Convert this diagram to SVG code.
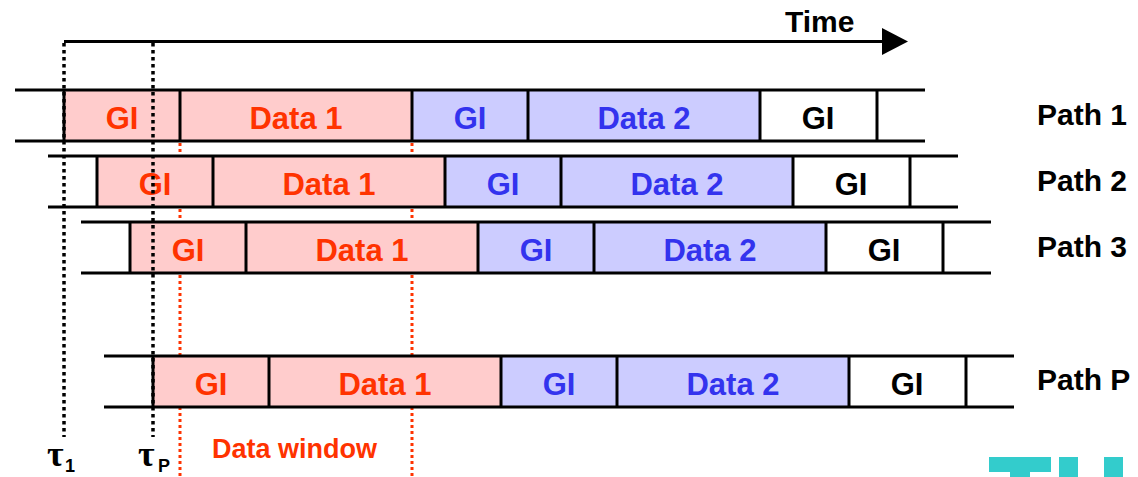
<svg xmlns="http://www.w3.org/2000/svg" width="1138" height="477" viewBox="0 0 1138 477">
<style>
.ln{stroke:#000;stroke-width:3;fill:none}
.pk{fill:#ffcccc}
.bl{fill:#ccccff}
.t{font-family:"Liberation Sans",Arial,sans-serif;font-weight:bold;font-size:31px;text-anchor:middle}
.r{fill:#ff3300}
.b{fill:#3333ee}
.k{fill:#000}
.lab{font-family:"Liberation Sans",Arial,sans-serif;font-weight:bold;font-size:30px;fill:#000}
.rdot{stroke:#ff3300;stroke-width:3;stroke-dasharray:3 3;fill:none}
.kdot{stroke:#000;stroke-width:3.5;stroke-dasharray:3.5 3.5;fill:none}
.tau{font-family:"Liberation Serif","DejaVu Serif",serif;font-weight:bold;font-size:36px;fill:#000}
.sub{font-family:"Liberation Sans",Arial,sans-serif;font-weight:bold;font-size:18px;fill:#000}
</style>
<defs>
<g id="row">
<rect class="pk" x="64" y="0" width="348" height="51"/>
<rect class="bl" x="412" y="0" width="348" height="51"/>
<line class="ln" x1="15" y1="0" x2="925" y2="0"/>
<line class="ln" x1="15" y1="51" x2="925" y2="51"/>
<line class="ln" x1="64" y1="0" x2="64" y2="51"/>
<line class="ln" x1="180" y1="0" x2="180" y2="51"/>
<line class="ln" x1="412" y1="0" x2="412" y2="51"/>
<line class="ln" x1="528" y1="0" x2="528" y2="51"/>
<line class="ln" x1="760" y1="0" x2="760" y2="51"/>
<line class="ln" x1="877" y1="0" x2="877" y2="51"/>
<text class="t r" x="122" y="39">GI</text>
<text class="t r" x="296" y="39">Data 1</text>
<text class="t b" x="470" y="39">GI</text>
<text class="t b" x="644" y="39">Data 2</text>
<text class="t k" x="818" y="39">GI</text>
</g>
</defs>
<g id="connectors">
<line class="rdot" x1="180" y1="143" x2="180" y2="477"/>
<line class="rdot" x1="412" y1="143" x2="412" y2="477"/>
</g>
<g id="path1"><use href="#row" transform="translate(0,90)"/><text class="lab" x="1037" y="125">Path 1</text></g>
<g id="path2"><use href="#row" transform="translate(33,156)"/><text class="lab" x="1037" y="191">Path 2</text></g>
<g id="path3"><use href="#row" transform="translate(66,222)"/><text class="lab" x="1037" y="257">Path 3</text></g>
<g id="pathP"><use href="#row" transform="translate(89,356)"/><text class="lab" x="1037" y="390">Path P</text></g>
<g id="time-axis">
<line class="ln" x1="64" y1="41.5" x2="884" y2="41.5"/>
<polygon points="882,28 908,41.5 882,55" fill="#000"/>
<text class="lab" x="785" y="32" font-size="31">Time</text>
</g>
<g id="delays">
<line class="kdot" x1="64" y1="43" x2="64" y2="437"/>
<line class="kdot" x1="153" y1="43" x2="153" y2="437"/>
<text class="tau" x="47" y="466">τ</text><text class="sub" x="65" y="472">1</text>
<text class="tau" x="138" y="466">τ</text><text class="sub" x="158" y="472">P</text>
</g>
<g id="data-window">
<text font-family="Liberation Sans, Arial, sans-serif" font-weight="bold" font-size="27" fill="#ff3300" x="212" y="458">Data window</text>
</g>
<g id="logo" fill="#33cccc">
<rect x="989" y="457" width="62" height="15"/>
<rect x="1010" y="471" width="20" height="6"/>
<rect x="1059" y="457" width="19" height="20"/>
<rect x="1104" y="457" width="19" height="20"/>
</g>
</svg>
